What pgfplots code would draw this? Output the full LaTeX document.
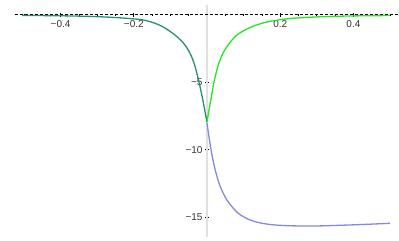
\documentclass[border=0pt]{standalone}
\usepackage{pgfplots}
\pgfplotsset{compat=1.18}
\usepackage{fontspec}
\setmainfont{Liberation Sans}
\definecolor{cteal}{RGB}{43,140,118}
\definecolor{cgreen}{RGB}{34,232,34}
\definecolor{cblue}{RGB}{132,136,230}
\begin{document}
\begin{tikzpicture}
\begin{axis}[
  scale only axis, width=399pt, height=241pt,
  xmin=-0.5656, xmax=0.5246, ymin=-16.76, ymax=1.089,
  axis lines=middle, axis line style={draw=none},
  clip=false,
  xtick={-0.4,-0.2,0.2,0.4},
  xticklabels={−0.4,−0.2,0.2,0.4},
  minor xtick={-0.5,-0.45,-0.35,-0.3,-0.25,-0.15,-0.1,-0.05,0.05,0.1,0.15,0.25,0.3,0.35,0.45,0.5},
  ytick={-15,-10,-5},
  yticklabels={−15,−10,−5},
  minor ytick={-16,-14,-13,-12,-11,-9,-8,-7,-6,-4,-3,-2,-1},
  tick style={black, line width=0.8pt},
  major tick length=4pt, minor tick length=2pt,
  tick label style={font=\fontsize{10}{11}\selectfont, text=black!80},
  xticklabel style={yshift=-0.5pt},
  yticklabel style={xshift=1pt},
]
\draw[black!12, line width=2pt] (axis cs:0,0.72) -- (axis cs:0,-16.5);
\draw[black, line width=0.5pt, dash pattern=on 3pt off 2pt] (axis cs:-0.5255,0) -- (axis cs:0.523,0);
\addplot[cblue, line width=1.3pt, smooth] coordinates {
(0,-8.0) (0.006,-9.15) (0.0128,-10.27) (0.022,-11.45) (0.0355,-12.68) (0.055,-13.75)
(0.083,-14.65) (0.113,-15.15) (0.145,-15.42) (0.18,-15.56) (0.222,-15.63) (0.27,-15.65)
(0.313,-15.64) (0.36,-15.60) (0.404,-15.56) (0.45,-15.51) (0.50,-15.45)};
\addplot[cteal, line width=1.3pt, smooth] coordinates {
(-0.505,-0.05) (-0.45,-0.065) (-0.40,-0.08) (-0.35,-0.105) (-0.30,-0.145) (-0.25,-0.21)
(-0.20,-0.31) (-0.175,-0.39) (-0.15,-0.56) (-0.125,-0.83) (-0.11,-1.07) (-0.09,-1.45)
(-0.075,-1.80) (-0.065,-2.08) (-0.055,-2.45) (-0.046,-2.88) (-0.040,-3.25) (-0.033,-3.80)
(-0.024,-4.75) (-0.0145,-5.90) (-0.0074,-6.90) (0,-7.95)};
\addplot[cgreen, line width=1.3pt, smooth] coordinates {
(0,-7.95) (0.0063,-6.93) (0.0128,-5.95) (0.019,-5.0) (0.0309,-3.72) (0.0445,-2.80)
(0.055,-2.35) (0.0675,-1.90) (0.0765,-1.63) (0.09,-1.35) (0.1128,-1.01) (0.14,-0.72)
(0.1675,-0.52) (0.20,-0.37) (0.2314,-0.27) (0.295,-0.17) (0.35,-0.12) (0.40,-0.09)
(0.45,-0.075) (0.50,-0.06)};
\end{axis}
\end{tikzpicture}
\end{document}
